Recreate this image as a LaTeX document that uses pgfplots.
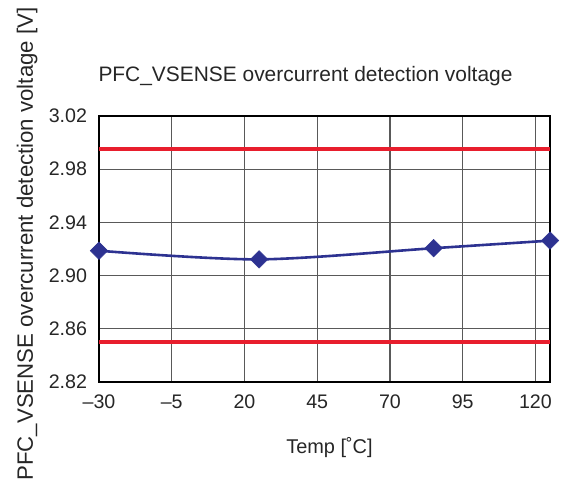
\documentclass[border=0pt]{standalone}
\usepackage{fontspec}
\setmainfont{Liberation Sans}
\usepackage{pgfplots}
\pgfplotsset{compat=1.18}
\definecolor{redline}{RGB}{232,30,45}
\definecolor{navy}{RGB}{45,50,145}
\begin{document}
\begin{tikzpicture}
\begin{axis}[
  scale only axis, width=451bp, height=266bp,
  xmin=-30, xmax=125, ymin=2.82, ymax=3.02,
  xtick={-30,-5,20,45,70,95,120},
  xticklabels={–30,–5,20,45,70,95,120},
  ytick={2.82,2.86,2.90,2.94,2.98,3.02},
  yticklabels={2.82,2.86,2.90,2.94,2.98,3.02},
  grid=major, major grid style={line width=1.2bp, color=black!65},
  major tick length=0,
  axis line style={line width=1.6bp, black},
  tick label style={font=\fontsize{19.7}{22}\selectfont, text=black!85},
  yticklabel style={xshift=-8.5bp},
  xticklabel style={yshift=-9.5bp},
  clip mode=individual,
  title={PFC\_VSENSE overcurrent detection voltage},
  title style={at={(rel axis cs:0.5,1)}, anchor=base, yshift=29bp, xshift=-19bp, font=\fontsize{21}{24}\selectfont, text=black!85},
  xlabel={Temp [˚C]},
  xlabel style={at={(rel axis cs:0.5,0)}, anchor=base, yshift=-71bp, xshift=5bp, font=\fontsize{20}{24}\selectfont, text=black!85},
  ylabel={PFC\_VSENSE overcurrent detection voltage [V]},
  ylabel style={at={(rel axis cs:0,0.5)}, anchor=base, yshift=66bp, xshift=5bp, font=\fontsize{22.3}{26}\selectfont, text=black!85},
]
\addplot[redline, line width=3.8bp] coordinates {(-30,2.995) (125,2.995)};
\addplot[redline, line width=3.8bp] coordinates {(-30,2.850) (125,2.850)};
\addplot[navy, line width=2.6bp, smooth, mark=square*, mark size=6.2bp, mark options={rotate=45, fill=navy, draw=navy, line width=0.5bp}]
  coordinates {(-30,2.9187) (25,2.9122) (85,2.9206) (125,2.9263)};
\coordinate (O) at (rel axis cs:0,0);
\end{axis}
\pgfresetboundingbox
\path (O) ++(-99bp,-109bp) rectangle ++(570bp,491bp);
\end{tikzpicture}
\end{document}
